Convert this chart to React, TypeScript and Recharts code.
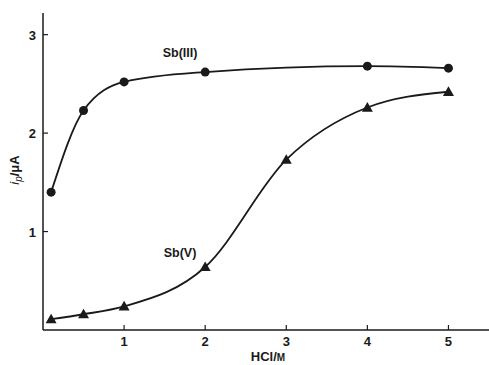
import React from 'react';
import {
  LineChart, Line, XAxis, YAxis, ReferenceDot, Label
} from 'recharts';

const hclIII = [0.1, 0.5, 1, 2, 4, 5];
const ipIII = [1.4, 2.23, 2.52, 2.62, 2.68, 2.66];

const hclV = [0.1, 0.5, 1, 2, 3, 4, 5];
const ipV = [0.11, 0.16, 0.24, 0.64, 1.73, 2.26, 2.42];

const xTicks = [1, 2, 3, 4, 5];
const yTicks = [1, 2, 3];

const seriesIII = hclIII.map((x, i) => ({ x, y: ipIII[i] }));
const seriesV = hclV.map((x, i) => ({ x, y: ipV[i] }));

const FONT = '"Liberation Sans", Arial, sans-serif';
const INK = '#1a1a1a';

const CircleDot = (props: any) => {
  const { cx, cy, index } = props;
  return <circle key={`c${index}`} cx={cx} cy={cy} r={4.5} fill={INK} stroke="none" />;
};

const TriDot = (props: any) => {
  const { cx, cy, index } = props;
  const s = 5.5;
  return (
    <polygon
      key={`t${index}`}
      points={`${cx},${cy - s} ${cx + s},${cy + s * 0.75} ${cx - s},${cy + s * 0.75}`}
      fill={INK}
    />
  );
};

const XTick = (props: any) => {
  const { x, y, payload } = props;
  const axisY = y - 5;
  return (
    <g>
      <line x1={x} y1={axisY} x2={x} y2={axisY - 5} stroke={INK} strokeWidth={1.2} />
      <text x={x} y={y + 11} textAnchor="middle" fontFamily={FONT} fontWeight="bold" fontSize={13} fill={INK}>
        {payload.value}
      </text>
    </g>
  );
};

const YTick = (props: any) => {
  const { x, y, payload } = props;
  const axisX = x + 7;
  return (
    <g>
      <line x1={axisX} y1={y} x2={axisX + 5} y2={y} stroke={INK} strokeWidth={1.2} />
      <text x={x} y={y + 5} textAnchor="end" fontFamily={FONT} fontWeight="bold" fontSize={13} fill={INK}>
        {payload.value}
      </text>
    </g>
  );
};

const YTitle = () => (
  <text
    transform="translate(19,170) rotate(-90)"
    textAnchor="middle"
    fontFamily={FONT}
    fontWeight="bold"
    fontSize={13}
    fill={INK}
  >
    <tspan fontStyle="italic" fontWeight="normal">i</tspan>
    <tspan fontStyle="italic" fontWeight="normal" fontSize={10} dy={3}>p</tspan>
    <tspan dy={-3}>/μA</tspan>
  </text>
);

const XTitle = () => (
  <text x={268} y={361} textAnchor="middle" fontFamily={FONT} fontWeight="bold" fontSize={13} fill={INK}>
    HCl/<tspan fontSize={10}>M</tspan>
  </text>
);

const seriesLabel = (text: string) => (props: any) => {
  const { viewBox } = props;
  return (
    <text x={viewBox.x} y={viewBox.y + 4} textAnchor="middle" fontFamily={FONT} fontWeight="bold" fontSize={12.5} fill={INK}>
      {text}
    </text>
  );
};

export default function App() {
  return (
    <div style={{ position: 'absolute', left: 0, top: 0, background: '#fff' }}>
      <LineChart width={489} height={365} margin={{ top: 13, right: 0, bottom: 0, left: 0 }}>
        <XAxis
          xAxisId="top"
          orientation="top"
          type="number"
          dataKey="x"
          domain={[0, 5.5]}
          height={0}
          tick={false}
          tickLine={false}
          axisLine={{ stroke: INK, strokeWidth: 1.5 }}
        />
        <XAxis
          type="number"
          dataKey="x"
          domain={[0, 5.5]}
          ticks={xTicks}
          height={35}
          tickSize={0}
          tickMargin={5}
          tick={<XTick />}
          axisLine={{ stroke: INK, strokeWidth: 1.5 }}
          allowDataOverflow
        >
          <Label content={<XTitle />} />
        </XAxis>
        <YAxis
          type="number"
          domain={[0, 3.22]}
          ticks={yTicks}
          width={43}
          tickSize={0}
          tickMargin={7}
          tick={<YTick />}
          axisLine={{ stroke: INK, strokeWidth: 1.5 }}
          allowDataOverflow
        >
          <Label content={<YTitle />} />
        </YAxis>
        <Line
          data={seriesIII}
          dataKey="y"
          type="monotone"
          stroke={INK}
          strokeWidth={1.8}
          dot={CircleDot}
          activeDot={false}
          isAnimationActive={false}
        />
        <Line
          data={seriesV}
          dataKey="y"
          type="monotone"
          stroke={INK}
          strokeWidth={1.8}
          dot={TriDot}
          activeDot={false}
          isAnimationActive={false}
        />
        <ReferenceDot x={1.69} y={2.81} r={0} stroke="none" label={seriesLabel('Sb(III)')} />
        <ReferenceDot x={1.69} y={0.78} r={0} stroke="none" label={seriesLabel('Sb(V)')} />
      </LineChart>
    </div>
  );
}
